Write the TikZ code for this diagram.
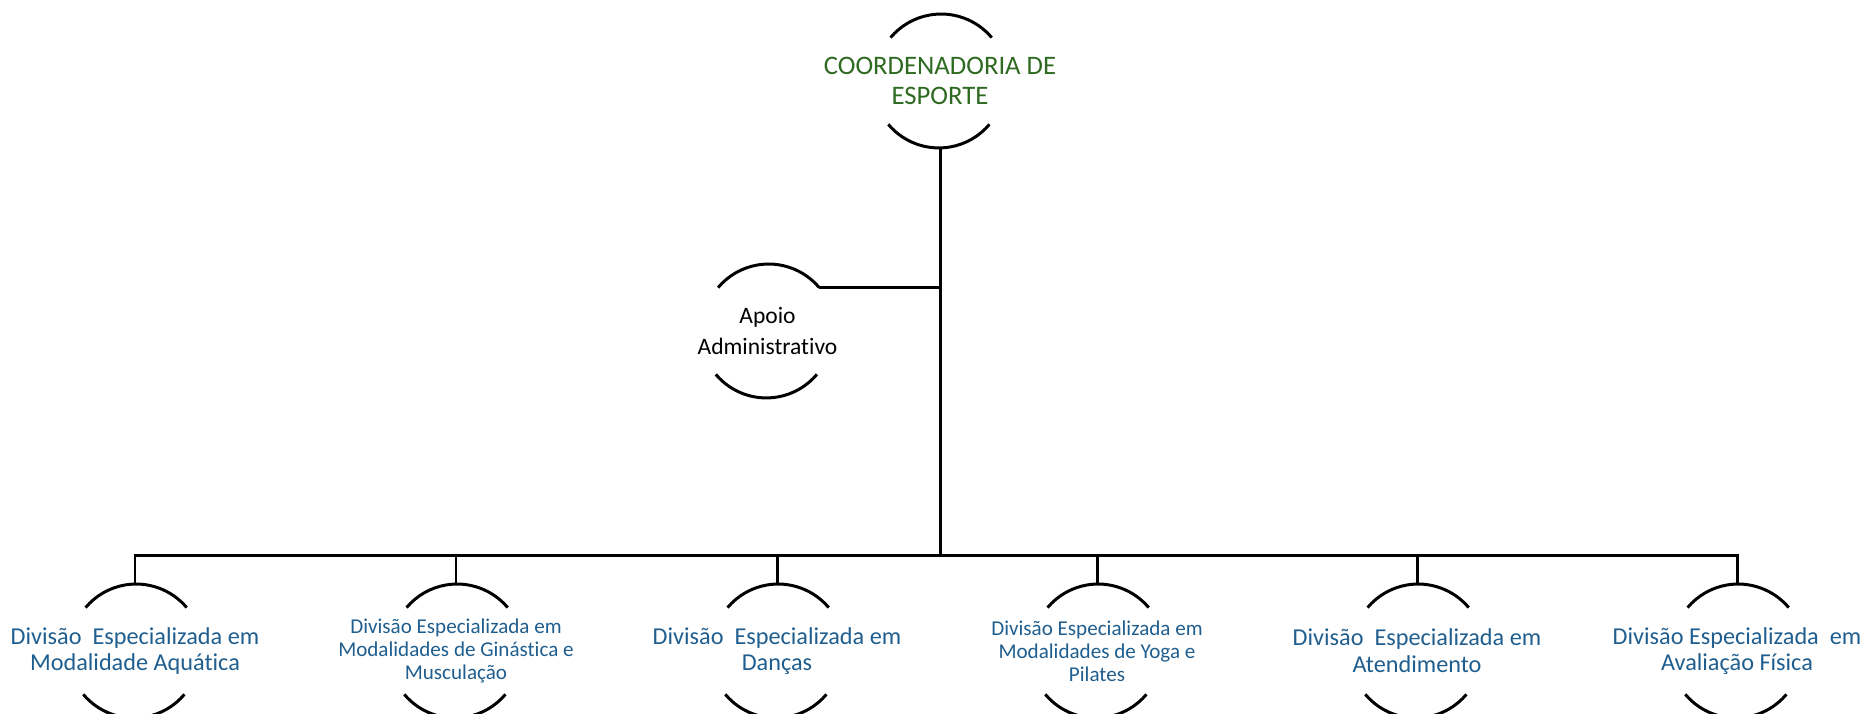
\documentclass[tikz,border=0pt]{standalone}
\usepackage{fontspec}
\setmainfont{Carlito}[Ligatures=NoCommon]
\usetikzlibrary{positioning,calc}
\definecolor{coordgreen}{RGB}{46,106,33}
\definecolor{divblue}{RGB}{31,94,142}

\begin{document}
\begin{tikzpicture}
  [x=1cm,y=1cm,line width=0.85pt,
   ring/.style={circle,minimum size=1.32cm,inner sep=0pt},
   toptext/.style={align=center,text=coordgreen,font=\fontsize{7.6}{8.6}\selectfont},
   apoiotext/.style={align=center,font=\fontsize{6.7}{9}\selectfont},
   divtext/.style={align=center,text=divblue,font=\fontsize{6.9}{7.6}\selectfont},
   divsmall/.style={align=center,text=divblue,font=\fontsize{6.0}{6.6}\selectfont}]
  \useasboundingbox (0,0) rectangle (18.62,7.14);

  \node[ring] (rc) at (9.40,6.33) {};
  \node[ring] (ra) at (7.675,3.83) {};
  \node[ring] (r1) at (1.35,0.63) {};
  \node[ring] (r2) at (4.56,0.63) {};
  \node[ring] (r3) at (7.77,0.63) {};
  \node[ring] (r4) at (10.97,0.63) {};
  \node[ring] (r5) at (14.17,0.63) {};
  \node[ring] (r6) at (17.37,0.63) {};

  \node[toptext] (coord) at (rc) {COORDENADORIA DE\\ESPORTE};
  \node[apoiotext] (apoio) at (ra) {Apoio\\Administrativo};
  \node[divtext] (aqua) at (r1) {Divisão\ \ Especializada em\\Modalidade Aquática};
  \node[divsmall] (gin) at (r2) {Divisão Especializada em\\Modalidades de Ginástica e\\Musculação};
  \node[divtext] (danca) at (r3) {Divisão\ \ Especializada em\\Danças};
  \node[divsmall] (yoga) at (r4) {Divisão Especializada em\\Modalidades de Yoga e\\Pilates};
  \node[divtext] (atend) at (r5) {Divisão\ \ Especializada em\\Atendimento};
  \node[divtext] (aval) at (r6) {Divisão Especializada\ \ em\\Avaliação Física};

  \coordinate (bus) at (9.40,1.58);

  \foreach \r in {rc,ra,r1,r2,r3,r4,r5,r6} {
    \draw (\r.40) arc[start angle=40,end angle=140,radius=0.66cm];
    \draw (\r.220) arc[start angle=220,end angle=320,radius=0.66cm];
  }

  \draw (rc.south) -- (bus);
  \draw (ra.40) -- (ra.40 -| rc.south);
  \foreach \r in {r1,r2,r3,r4,r5,r6}
    \draw (bus) -| (\r.north);
\end{tikzpicture}
\end{document}
